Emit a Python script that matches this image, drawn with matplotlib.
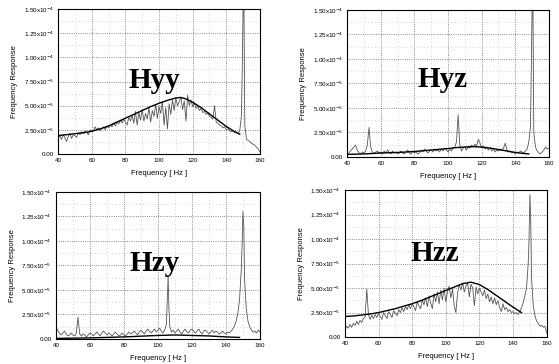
import numpy as np
import matplotlib
matplotlib.use('Agg')
import matplotlib.pyplot as plt
from matplotlib.ticker import MultipleLocator

plt.rcParams['font.family'] = ['Liberation Sans', 'DejaVu Sans']

# measured responses, 1 Hz steps from 40 to 160 Hz, values in 1e-5 units
freq = np.arange(40, 161)
meas_yy = [1.6, 1.9, 1.5, 2.0, 1.7, 1.3, 1.8, 2.1, 1.6, 2.0,
           1.9, 1.7, 2.2, 2.0, 2.3, 2.1, 2.4, 2.2, 2.0, 2.5,
           2.3, 2.4, 2.8, 2.5, 2.7, 2.4, 2.6, 2.8, 2.5, 2.9,
           2.7, 3.0, 2.8, 3.2, 2.9, 3.3, 3.1, 3.5, 3.2, 3.6,
           3.3, 3.0, 3.8, 3.4, 4.0, 3.2, 4.4, 3.0, 4.3, 3.5,
           4.6, 3.4, 4.2, 3.6, 4.8, 3.3, 4.5, 3.9, 5.1, 3.7,
           4.9, 4.2, 5.4, 3.0, 4.8, 2.6, 5.2, 4.1, 5.6, 4.5,
           5.8, 5.0, 5.4, 5.9, 4.6, 5.5, 3.4, 6.1, 5.0, 5.6,
           4.9, 5.3, 4.7, 5.0, 4.5, 4.7, 4.3, 4.4, 4.1, 4.2,
           3.9, 3.8, 3.6, 5.0, 3.3, 3.2, 3.0, 2.9, 2.7, 2.8,
           2.5, 2.6, 2.4, 2.3, 2.4, 2.2, 2.3, 2.1, 2.4, 4.0,
           15.5, 3.0, 1.5, 1.4, 1.3, 1.1, 1.0, 0.9, 0.7, 0.5,
           0.2]
meas_yz = [0.2, 0.4, 0.6, 0.8, 1.0, 1.2, 0.7, 0.4, 0.3, 0.5,
           0.4, 0.6, 1.2, 3.0, 1.0, 0.5, 0.3, 0.5, 0.6, 0.4,
           0.5, 0.3, 0.6, 0.4, 0.7, 0.5, 0.3, 0.6, 0.4, 0.5,
           0.3, 0.4, 0.6, 0.4, 0.3, 0.5, 0.7, 0.4, 0.3, 0.6,
           0.4, 0.5, 0.3, 0.4, 0.7, 0.5, 0.8, 0.6, 0.4, 0.6,
           0.7, 0.5, 0.8, 0.6, 0.7, 0.5, 0.8, 0.6, 0.9, 0.7,
           0.5, 0.8, 0.6, 0.9, 1.0, 1.5, 4.3, 1.2, 0.6, 0.9,
           1.0, 0.7, 1.1, 0.9, 1.2, 1.0, 1.3, 1.1, 1.8, 1.4,
           0.9, 1.1, 0.8, 1.0, 0.7, 0.9, 0.6, 0.8, 0.5, 0.7,
           0.6, 0.8, 0.7, 0.9, 1.4, 0.7, 0.5, 0.6, 0.4, 0.5,
           0.3, 0.5, 0.4, 0.6, 0.5, 0.4, 0.6, 0.8, 1.5, 3.0,
           15.5, 2.5, 1.0, 0.6, 0.4, 0.3, 0.5, 0.7, 1.0, 0.8,
           0.9]
meas_zy = [1.2, 0.9, 0.6, 0.4, 0.6, 0.8, 0.5, 0.3, 0.4, 0.6,
           0.4, 0.3, 0.6, 2.2, 0.5, 0.3, 0.5, 0.4, 0.2, 0.4,
           0.6, 0.5, 0.3, 0.5, 0.7, 0.5, 0.3, 0.6, 0.8, 0.6,
           0.4, 0.6, 0.5, 0.3, 0.5, 0.7, 0.5, 0.3, 0.4, 0.6,
           0.4, 0.3, 0.5, 0.7, 0.5, 0.6, 0.8, 0.6, 0.4, 0.7,
           0.9, 0.7, 0.5, 0.8, 1.0, 0.8, 0.6, 0.8, 1.0, 0.7,
           0.9, 1.1, 0.8, 0.6, 0.9, 1.5, 6.3, 1.2, 0.7, 0.9,
           0.6, 0.8, 1.0, 0.7, 0.5, 0.8, 1.0, 0.7, 0.6, 0.9,
           1.0, 0.8, 0.6, 0.8, 1.0, 0.7, 0.5, 0.8, 0.9, 0.7,
           0.5, 0.7, 0.9, 0.6, 0.8, 0.7, 0.5, 0.6, 0.8, 0.6,
           0.5, 0.7, 0.6, 0.8, 1.0, 1.3, 1.8, 2.6, 4.0, 7.0,
           13.0, 6.0, 3.0, 1.8, 1.2, 0.9, 0.7, 0.8, 0.6, 0.9,
           0.7]
meas_zz = [0.8, 1.1, 0.9, 1.3, 1.0, 1.4, 1.2, 1.6, 1.3, 1.7,
           1.5, 1.9, 2.0, 4.9, 2.3, 1.8, 2.2, 1.9, 2.3, 2.0,
           2.4, 2.1, 1.8, 2.5, 2.2, 1.9, 2.6, 2.3, 2.0, 2.7,
           2.4, 2.2, 2.8, 2.5, 3.0, 2.6, 3.1, 2.8, 3.3, 2.9,
           3.4, 3.1, 2.7, 3.6, 3.2, 2.9, 3.8, 3.3, 4.0, 3.1,
           4.2, 3.5, 2.9, 4.4, 3.6, 4.6, 3.4, 4.8, 3.8, 5.0,
           3.6, 4.6, 5.2, 4.0, 4.9, 3.2, 2.5, 4.5, 5.3, 4.8,
           5.5, 4.6, 5.2, 5.5, 4.1, 5.4, 5.0, 3.2, 5.1, 4.4,
           5.0, 4.6, 4.2, 4.8, 3.9, 4.4, 3.6, 4.1, 3.4, 4.0,
           3.3, 3.7, 3.0, 2.6, 3.4, 2.8, 3.0, 2.6, 2.8, 2.5,
           2.6, 2.4, 2.5, 2.3, 2.6, 3.0, 3.5, 4.2, 5.0, 7.5,
           14.5, 6.0, 3.2, 2.2, 1.6, 1.4, 1.1, 1.2, 1.0, 1.1,
           0.4]

# extra points on the sharp peaks (half-Hz steps)
peak_f = [149.5, 150.5]
peak_yy = [9.0, 15.5]
peak_yz = [9.0, 15.5]
peak_zy = [9.5, 11.5]
peak_zz = [10.0, 12.0]
spike_f_zy = [105.5, 106.5]
spike_zy = [4.0, 3.0]

# fitted (smooth) model curves, values in 1e-5 units
fit_f_yy = [40, 45, 50, 55, 60, 65, 70, 75, 80, 85, 90, 95, 100, 105, 110,
            113, 116, 120, 125, 130, 135, 140, 145, 148]
fit_yy = [1.9, 2.0, 2.1, 2.2, 2.35, 2.6, 2.9, 3.3, 3.7, 4.1, 4.5, 4.9, 5.25,
          5.55, 5.8, 5.85, 5.7, 5.35, 4.8, 4.15, 3.5, 2.85, 2.3, 2.05]
fit_f_yz = [40, 50, 60, 70, 80, 90, 100, 105, 110, 115, 120, 125, 130, 135,
            140, 145, 148]
fit_yz = [0.25, 0.3, 0.4, 0.45, 0.55, 0.7, 0.85, 0.95, 1.0, 1.05, 1.0, 0.9,
          0.75, 0.6, 0.45, 0.35, 0.3]
fit_f_zy = [40, 60, 80, 100, 110, 120, 130, 140, 148]
fit_zy = [0.05, 0.1, 0.2, 0.35, 0.4, 0.35, 0.3, 0.2, 0.15]
fit_f_zz = [40, 45, 50, 55, 60, 65, 70, 75, 80, 85, 90, 95, 100, 105, 110,
            115, 120, 125, 130, 135, 140, 145]
fit_zz = [2.1, 2.15, 2.25, 2.35, 2.5, 2.7, 2.9, 3.15, 3.4, 3.7, 4.05, 4.4,
          4.75, 5.1, 5.45, 5.6, 5.35, 4.85, 4.25, 3.65, 3.05, 2.5]

titles = ['Hyy', 'Hyz', 'Hzy', 'Hzz']
title_pos = [(97, 7.6), (96.5, 7.9), (98, 7.65), (93.5, 8.5)]

ytick_vals = [0, 2.5, 5.0, 7.5, 10.0, 12.5, 15.0]
ytick_labels = ['0.00', '2.50x10$^{-5}$', '5.00x10$^{-5}$', '7.50x10$^{-5}$',
                '1.00x10$^{-4}$', '1.25x10$^{-4}$', '1.50x10$^{-4}$']
xtick_vals = [40, 60, 80, 100, 120, 140, 160]

axes_rect = [[0.104, 0.577, 0.361, 0.398],
             [0.621, 0.569, 0.361, 0.404],
             [0.100, 0.069, 0.365, 0.404],
             [0.617, 0.074, 0.361, 0.404]]


def merge(base_f, base_v, extra_f, extra_v):
    f = np.concatenate([base_f, extra_f])
    v = np.concatenate([base_v, extra_v])
    order = np.argsort(f)
    return f[order], v[order]


f_yy, m_yy = merge(freq, meas_yy, peak_f, peak_yy)
f_yz, m_yz = merge(freq, meas_yz, peak_f, peak_yz)
f_zy, m_zy = merge(freq, meas_zy, peak_f + spike_f_zy, peak_zy + spike_zy)
f_zz, m_zz = merge(freq, meas_zz, peak_f, peak_zz)

meas = [(f_yy, m_yy), (f_yz, m_yz), (f_zy, m_zy), (f_zz, m_zz)]
fits = [(fit_f_yy, fit_yy), (fit_f_yz, fit_yz), (fit_f_zy, fit_zy),
        (fit_f_zz, fit_zz)]

fig = plt.figure(figsize=(5.59, 3.64), dpi=100)
for i in range(4):
    ax = fig.add_axes(axes_rect[i])
    fm, vm = meas[i]
    ff, vf = fits[i]
    ax.plot(fm, vm, '-', color='#555555', lw=0.6)
    ax.plot(ff, vf, '-', color='black', lw=1.0)
    ax.set_xlim(40, 160)
    ax.set_ylim(0, 15)
    ax.set_xticks(xtick_vals)
    ax.set_yticks(ytick_vals)
    ax.set_yticklabels(ytick_labels)
    ax.xaxis.set_minor_locator(MultipleLocator(10))
    ax.yaxis.set_minor_locator(MultipleLocator(1.25))
    ax.grid(True, which='major', ls=':', lw=0.6, color='#666666')
    ax.grid(True, which='minor', ls=(0, (1, 4)), lw=0.5, color='#aaaaaa')
    ax.tick_params(which='both', length=0, labelsize=4.5, pad=3)
    ax.set_xlabel('Frequency [ Hz ]', fontsize=5.5, labelpad=5)
    ax.set_ylabel('Frequency Response', fontsize=5.5, labelpad=4)
    for s in ax.spines.values():
        s.set_linewidth(0.8)
    ax.text(title_pos[i][0], title_pos[i][1], titles[i],
            family=['Liberation Serif', 'DejaVu Serif'], fontweight='bold',
            fontsize=21, ha='center', va='center')

fig.savefig('out.png', dpi=100)
